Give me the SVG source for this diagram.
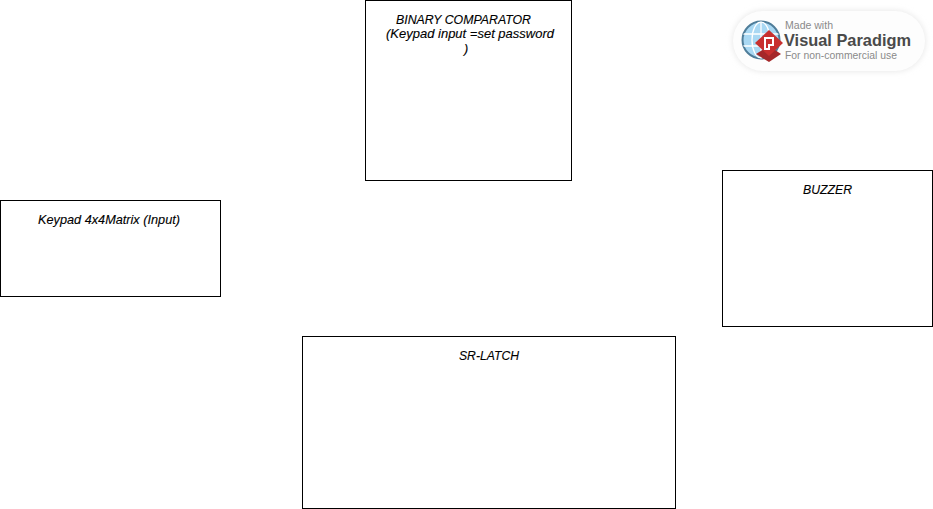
<svg xmlns="http://www.w3.org/2000/svg" width="933" height="509" viewBox="0 0 933 509">
<defs>
<style>
.box{fill:#fff;stroke:#000;stroke-width:1}
.t{font-family:"Liberation Sans",Arial,sans-serif;font-size:12.6px;font-style:italic;fill:#000;stroke:#000;stroke-width:.12;text-anchor:middle}
.b1{font-family:"Liberation Sans",Arial,sans-serif;font-size:10.5px;fill:#8a8a8a}
.b2{font-family:"Liberation Sans",Arial,sans-serif;font-size:17px;font-weight:bold;fill:#4a4a4a}
</style>
<filter id="blur" x="-10%" y="-30%" width="120%" height="160%"><feGaussianBlur stdDeviation="3"/></filter>
<clipPath id="globe"><circle cx="761" cy="40" r="18.5"/></clipPath>
</defs>
<rect width="933" height="509" fill="#fff"/>
<g id="connectors"></g>
<g id="node-comparator">
<rect class="box" x="365.500" y="0.500" width="206" height="180"/>
<text class="t" x="463.500" y="24" textLength="135" lengthAdjust="spacingAndGlyphs">BINARY COMPARATOR</text>
<text class="t" x="470" y="38" textLength="168" lengthAdjust="spacingAndGlyphs">(Keypad input =set password</text>
<text class="t" x="466" y="53">)</text>
</g>
<g id="node-keypad">
<rect class="box" x="0.500" y="200.500" width="220" height="96"/>
<text class="t" x="109" y="224" textLength="142" lengthAdjust="spacingAndGlyphs">Keypad 4x4Matrix (Input)</text>
</g>
<g id="node-buzzer">
<rect class="box" x="722.500" y="170.500" width="210" height="156"/>
<text class="t" x="827.500" y="194" textLength="49" lengthAdjust="spacingAndGlyphs">BUZZER</text>
</g>
<g id="node-latch">
<rect class="box" x="302.500" y="336.500" width="373" height="172"/>
<text class="t" x="489" y="360" textLength="60" lengthAdjust="spacingAndGlyphs">SR-LATCH</text>
</g>
<g id="badge">
<rect x="733" y="11" width="192" height="60" rx="30" fill="#e4e4e4" filter="url(#blur)"/>
<rect x="733" y="11" width="192" height="60" rx="30" fill="#fdfdfd"/>
<circle cx="761" cy="40" r="18.500" fill="#a9d8f3" stroke="#4f7d99" stroke-width="2"/>
<g clip-path="url(#globe)" fill="none" stroke="#fff" stroke-width="1.300">
<ellipse cx="761" cy="40" rx="9" ry="18"/>
<path d="M761 21V59M742 34H780M742 46H780"/>
</g>
<path d="M769 46l12 8-12 8-13-8z" fill="#a5282a"/>
<path d="M769 30l14 13-14 13-14-13z" fill="#c8302f"/>
<path d="M765 38h8v7h-4v4h-4z" fill="none" stroke="#fff" stroke-width="2"/>
<text class="b1" x="785" y="29" textLength="48" lengthAdjust="spacingAndGlyphs">Made with</text>
<text class="b2" x="784" y="46" textLength="127" lengthAdjust="spacingAndGlyphs">Visual Paradigm</text>
<text class="b1" x="785" y="59" textLength="112" lengthAdjust="spacingAndGlyphs">For non-commercial use</text>
</g>
</svg>
